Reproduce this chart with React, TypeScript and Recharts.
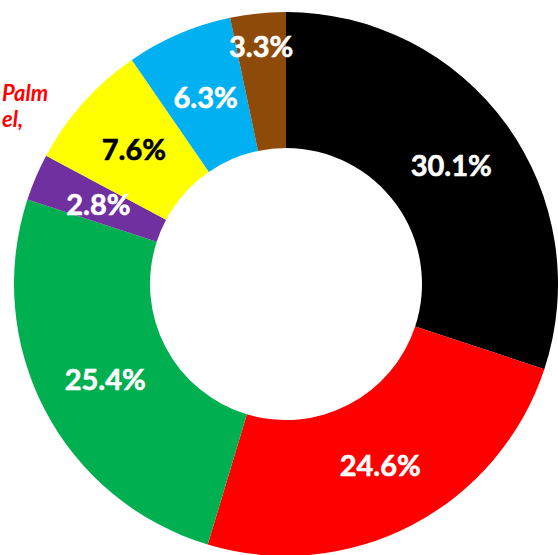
import React from "react";
import { PieChart, Pie, Cell } from "recharts";

const categories = ["Black", "Red", "Green", "Purple", "Yellow", "Blue", "Brown"];
const values = [30.1, 24.6, 25.4, 2.8, 7.6, 6.3, 3.3];
const labels = ["30.1%", "24.6%", "25.4%", "2.8%", "7.6%", "6.3%", "3.3%"];
const colors = ["#000000", "#FF0000", "#00B050", "#7030A0", "#FFFF00", "#00B0F0", "#8E4A08"];
const labelColors = ["#FFFFFF", "#FFFFFF", "#FFFFFF", "#FFFFFF", "#000000", "#FFFFFF", "#FFFFFF"];
const sideTextLines = ["Palm", "el,"];

const data = categories.map((c, i) => ({ name: c, value: values[i], label: labels[i] }));

const RAD = Math.PI / 180;

const renderLabel = (props: any) => {
  const { cx, cy, midAngle, innerRadius, outerRadius, index } = props;
  let r = (innerRadius + outerRadius) / 2;
  if (index === 6) r = outerRadius - 32;
  const x = cx + r * Math.cos(-midAngle * RAD);
  const y = cy + r * Math.sin(-midAngle * RAD);
  return (
    <text
      x={x}
      y={y}
      fill={labelColors[index]}
      textAnchor="middle"
      dominantBaseline="central"
      fontFamily="Lato, 'Open Sans', sans-serif"
      fontWeight="bold"
      fontSize={29}
      stroke={labelColors[index]}
      strokeWidth={0.6}
    >
      {labels[index]}
    </text>
  );
};

export default function App() {
  return (
    <div style={{ position: "absolute", left: 0, top: 0, width: 558, height: 555, background: "#fff" }}>
      <PieChart width={558} height={555} margin={{ top: 0, right: 0, bottom: 0, left: 0 }}>
        <Pie
          data={data}
          dataKey="value"
          nameKey="name"
          cx={286}
          cy={284}
          innerRadius={136}
          outerRadius={272}
          startAngle={90}
          endAngle={-270}
          stroke="none"
          label={renderLabel}
          labelLine={false}
          isAnimationActive={false}
        >
          {data.map((d, i) => (
            <Cell key={d.name} fill={colors[i]} />
          ))}
        </Pie>
        <text
          x={2}
          y={101}
          textAnchor="start"
          fill="#FF0000"
          fontFamily="Lato, 'Open Sans', sans-serif"
          fontWeight="bold"
          fontStyle="italic"
          fontSize={22}
        >
          {sideTextLines[0]}
        </text>
        <text
          x={2}
          y={127}
          textAnchor="start"
          fill="#FF0000"
          fontFamily="Lato, 'Open Sans', sans-serif"
          fontWeight="bold"
          fontStyle="italic"
          fontSize={22}
        >
          {sideTextLines[1]}
        </text>
      </PieChart>
    </div>
  );
}
